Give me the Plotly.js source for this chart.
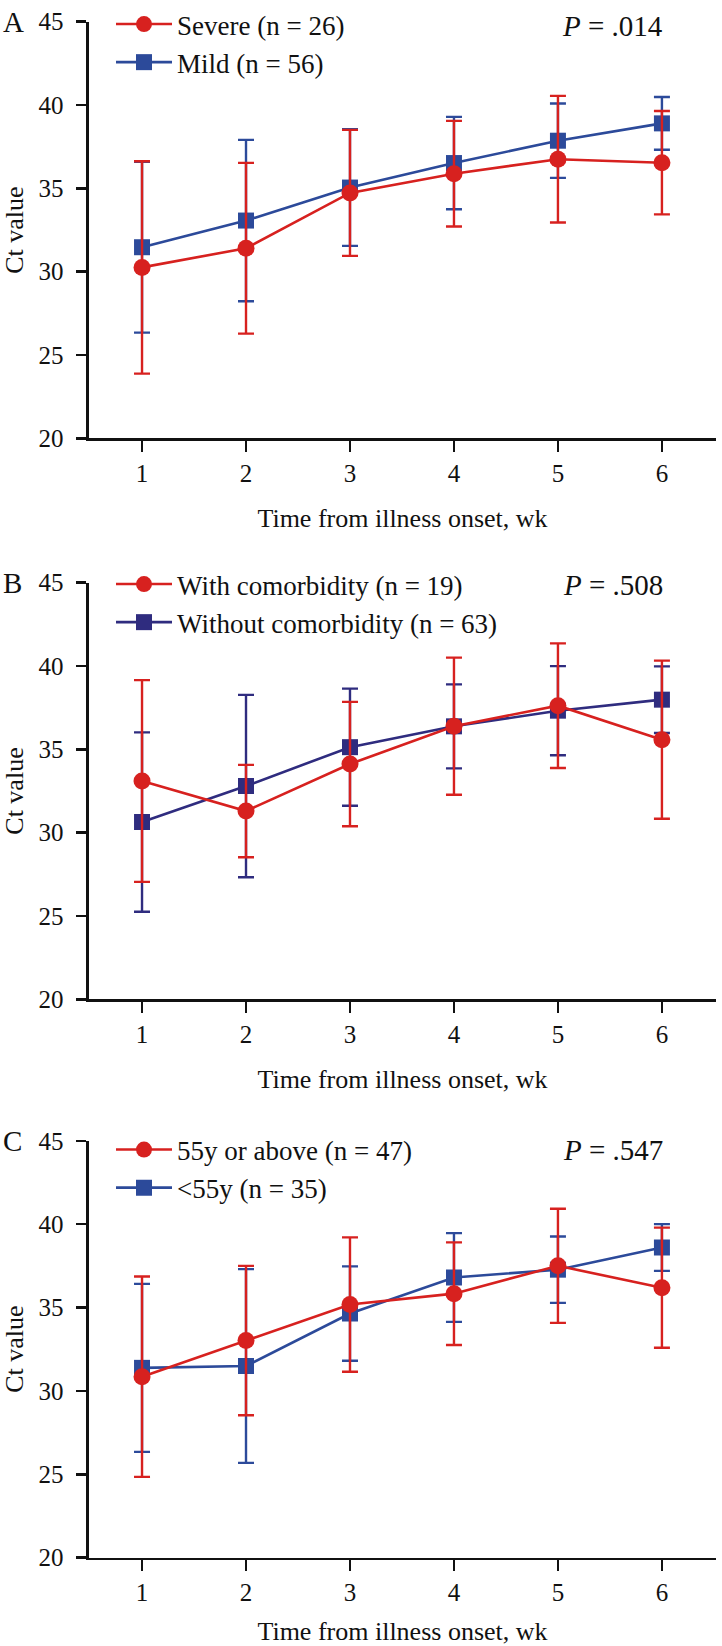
<!DOCTYPE html>
<html>
<head>
<meta charset="utf-8">
<script src="https://cdn.plot.ly/plotly-3.0.1.min.js"></script>
<style>html,body{margin:0;padding:0;background:#fff;}#chart{width:722px;height:1646px;}</style>
</head>
<body>
<div id="chart"></div>
<script>
// ---- data ----
const weeks = [1, 2, 3, 4, 5, 6];
const tickLabels = ['1', '2', '3', '4', '5', '6'];

const panelLetters = ['A', 'B', 'C'];
const pValues = ['.014', '.508', '.547'];

const severeName = 'Severe (n = 26)';
const severeMean = [30.26, 31.41, 34.73, 35.88, 36.75, 36.54];
const severeSD   = [6.37, 5.12, 3.78, 3.17, 3.80, 3.10];
const mildName = 'Mild (n = 56)';
const mildMean = [31.47, 33.07, 35.05, 36.52, 37.86, 38.90];
const mildSD   = [5.12, 4.84, 3.50, 2.77, 2.23, 1.58];

const withName = 'With comorbidity (n = 19)';
const withMean = [33.10, 31.30, 34.12, 36.39, 37.62, 35.58];
const withSD   = [6.05, 2.77, 3.73, 4.11, 3.74, 4.74];
const withoutName = 'Without comorbidity (n = 63)';
const withoutMean = [30.64, 32.80, 35.13, 36.38, 37.32, 37.98];
const withoutSD   = [5.38, 5.47, 3.51, 2.52, 2.67, 2.00];

const oldName = '55y or above (n = 47)';
const oldMean = [30.85, 33.02, 35.18, 35.83, 37.50, 36.19];
const oldSD   = [6.01, 4.48, 4.03, 3.08, 3.42, 3.60];
const youngName = '<55y (n = 35)';
const youngMean = [31.38, 31.49, 34.64, 36.80, 37.27, 38.60];
const youngSD   = [5.04, 5.81, 2.83, 2.66, 1.99, 1.40];

// ---- styling ----
const W = 722, H = 1646;
const RED = '#d7211f';
const BLUE = '#2c4a9a';
const NAVY = '#2f2c7f';
const FONT = '"Liberation Serif", "DejaVu Serif", serif';
const py = y => 1 - y / H;   // pixel -> paper (vertical)
const px = x => x / W;       // pixel -> paper (horizontal)

const panels = [
  {top: 20.7, bottom: 437.7, legendDy: 0, pDy: 4, red: [severeName, severeMean, severeSD], blue: [mildName, mildMean, mildSD], blueColor: BLUE},
  {top: 582, bottom: 999, legendDy: 0, pDy: 2, red: [withName, withMean, withSD], blue: [withoutName, withoutMean, withoutSD], blueColor: NAVY},
  {top: 1140.5, bottom: 1557.5, legendDy: 7, pDy: 9, red: [oldName, oldMean, oldSD], blue: [youngName, youngMean, youngSD], blueColor: BLUE}
];

const traces = [];
const layout = {
  width: W, height: H,
  margin: {l: 0, r: 0, t: 0, b: 0},
  paper_bgcolor: '#fff', plot_bgcolor: '#fff',
  font: {family: FONT, color: '#111', size: 24},
  annotations: [],
  showlegend: true
};

panels.forEach((p, i) => {
  const n = i === 0 ? '' : String(i + 1);
  const xa = 'x' + n, ya = 'y' + n;
  const legendId = 'legend' + n;
  const mk = (name, mean, sd, color, symbol, size, rank) => ({
    type: 'scatter', mode: 'lines+markers', name: name,
    x: weeks, y: mean, xaxis: xa, yaxis: ya,
    legend: legendId, legendgroup: 'g' + i + rank, legendrank: rank,
    line: {color: color, width: 2.6},
    marker: {color: color, symbol: symbol, size: size},
    error_y: {type: 'data', array: sd, visible: true, color: color, thickness: 2.4, width: 8},
    cliponaxis: false
  });
  // blue first (drawn underneath), red on top
  traces.push(mk(p.blue[0], p.blue[1], p.blue[2], p.blueColor, 'square', 16, 2));
  traces.push(mk(p.red[0], p.red[1], p.red[2], RED, 'circle', 17, 1));

  layout['xaxis' + n] = {
    domain: [px(89), px(716)], anchor: ya,
    range: [0.49, 6.52],
    tickvals: weeks, ticktext: tickLabels,
    showline: true, linecolor: '#111', linewidth: 2.6,
    ticks: 'outside', ticklen: 11, tickwidth: 2.6, tickcolor: '#111',
    ticklabelstandoff: 0,
    showgrid: false, zeroline: false, fixedrange: true,
    tickfont: {family: FONT, size: 25, color: '#111'},
    title: {text: 'Time from illness onset, wk', font: {family: FONT, size: 26, color: '#111'}, standoff: 23}
  };
  layout['yaxis' + n] = {
    domain: [py(p.bottom), py(p.top)], anchor: xa,
    range: [20, 45],
    tickvals: [20, 25, 30, 35, 40, 45],
    showline: true, linecolor: '#111', linewidth: 2.6,
    ticks: 'outside', ticklen: 10, tickwidth: 2.6, tickcolor: '#111',
    ticklabelstandoff: 8,
    showgrid: false, zeroline: false, fixedrange: true,
    tickfont: {family: FONT, size: 25, color: '#111'},
    title: {text: 'Ct value', font: {family: FONT, size: 26, color: '#111'}, standoff: 14}
  };
  layout[legendId] = {
    x: px(111), y: py(p.top - 22 + p.legendDy), xanchor: 'left', yanchor: 'top',
    bgcolor: 'rgba(0,0,0,0)', borderwidth: 0,
    font: {family: FONT, size: 27, color: '#111'},
    tracegroupgap: 9, traceorder: 'normal', itemwidth: 56
  };
  layout.annotations.push({
    xref: 'paper', yref: 'paper', x: px(1), y: py(p.top), xanchor: 'left', yanchor: 'middle',
    text: panelLetters[i], showarrow: false, font: {family: FONT, size: 29, color: '#111'}
  });
  layout.annotations.push({
    xref: 'paper', yref: 'paper', x: px(665), y: py(p.top + p.pDy), xanchor: 'right', yanchor: 'middle',
    text: '<i>P</i> = ' + pValues[i], showarrow: false, font: {family: FONT, size: 29, color: '#111'}
  });
});

Plotly.newPlot('chart', traces, layout, {displayModeBar: false, staticPlot: true});
</script>
</body>
</html>
